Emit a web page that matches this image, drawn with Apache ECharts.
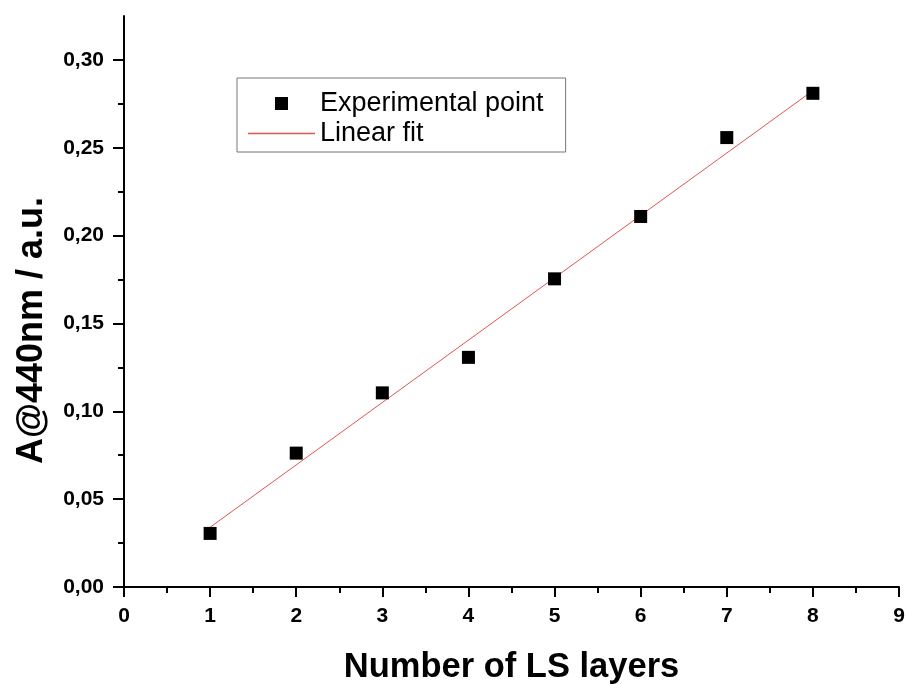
<!DOCTYPE html>
<html>
<head>
<meta charset="utf-8">
<script src="https://cdn.jsdelivr.net/npm/echarts@6/dist/echarts.min.js"></script>
<style>
html,body{margin:0;padding:0;background:#fff;}
#chart{width:907px;height:684px;}
</style>
</head>
<body>
<div id="chart"></div>
<script>
// Data
const layers = [1, 2, 3, 4, 5, 6, 7, 8];
const absorbance = [0.0305, 0.0762, 0.1105, 0.1307, 0.1754, 0.2109, 0.2558, 0.2810];
const fitX = [1, 8];
const fitY = [0.0340, 0.2825];
const yMajorTicks = [0, 0.05, 0.10, 0.15, 0.20, 0.25, 0.30];
const yMinorTicks = [0.025, 0.075, 0.125, 0.175, 0.225, 0.275];
const seriesNames = ['Experimental point', 'Linear fit'];
const xTitle = 'Number of LS layers';
const yTitle = 'A@440nm / a.u.';

const FONT = '"Liberation Sans", Arial, Helvetica, sans-serif';
const chart = echarts.init(document.getElementById('chart'), null, {renderer: 'canvas'});

const points = layers.map((x, i) => [x, absorbance[i]]);
const fit = fitX.map((x, i) => [x, fitY[i]]);
const FIT_COLOR = '#e05555';

chart.setOption({
  animation: false,
  backgroundColor: '#ffffff',
  grid: {left: 124, right: 8, top: 16, bottom: 97, containLabel: false, outerBoundsMode: 'none'},
  legend: {
    orient: 'vertical',
    left: 237,
    top: 78,
    itemWidth: 67,
    itemHeight: 13,
    itemGap: 3,
    padding: [12, 22, 5, 11],
    borderColor: '#777777',
    borderWidth: 1,
    textStyle: {fontFamily: FONT, fontSize: 27, color: '#000', lineHeight: 27},
    data: [
      {name: seriesNames[0], icon: 'path://M0,0L10,0L10,10L0,10Z', itemStyle: {color: '#000', opacity: 1, borderWidth: 0}},
      {name: seriesNames[1], icon: 'path://M0,0L62,0L62,1.4L0,1.4Z', itemStyle: {color: FIT_COLOR, opacity: 1, borderWidth: 0}}
    ]
  },
  xAxis: {
    type: 'value',
    min: 0, max: 9, interval: 1,
    name: xTitle,
    nameLocation: 'middle',
    nameGap: 63,
    nameTextStyle: {fontFamily: FONT, fontSize: 34.5, fontWeight: 'bold', color: '#000'},
    axisLine: {show: true, onZero: false, lineStyle: {color: '#000', width: 2}},
    axisTick: {show: true, inside: false, length: 10, lineStyle: {color: '#000', width: 2}},
    minorTick: {show: true, splitNumber: 2, length: 6, lineStyle: {color: '#000', width: 2}},
    axisLabel: {margin: 19, fontFamily: FONT, fontSize: 21, fontWeight: 'bold', color: '#000'},
    splitLine: {show: false},
    minorSplitLine: {show: false}
  },
  yAxis: [{
    type: 'value',
    min: 0, max: 0.325,
    name: yTitle,
    nameLocation: 'middle',
    nameGap: 74,
    nameTextStyle: {fontFamily: FONT, fontSize: 36, fontWeight: 'bold', color: '#000', padding: [0, 58, 0, 0]},
    axisLine: {show: true, onZero: false, lineStyle: {color: '#000', width: 2}},
    axisTick: {show: true, inside: false, length: 11, customValues: yMajorTicks, lineStyle: {color: '#000', width: 2}},
    axisLabel: {margin: 20, customValues: yMajorTicks, fontFamily: FONT, fontSize: 21, fontWeight: 'bold', color: '#000',
      formatter: v => v.toFixed(2).replace('.', ',')},
    splitLine: {show: false}
  }, {
    type: 'value',
    min: 0, max: 0.325,
    position: 'left',
    offset: 0,
    axisLine: {show: false},
    axisTick: {show: true, inside: false, length: 6, customValues: yMinorTicks, lineStyle: {color: '#000', width: 2}},
    axisLabel: {show: false},
    splitLine: {show: false}
  }],
  series: [{
    name: seriesNames[0],
    type: 'scatter',
    data: points,
    symbol: 'rect',
    symbolSize: 13,
    itemStyle: {color: '#000', opacity: 1},
    z: 3
  }, {
    name: seriesNames[1],
    type: 'line',
    data: fit,
    showSymbol: false,
    symbol: 'none',
    lineStyle: {color: FIT_COLOR, width: 1},
    itemStyle: {color: FIT_COLOR},
    z: 2
  }]
});
</script>
</body>
</html>
